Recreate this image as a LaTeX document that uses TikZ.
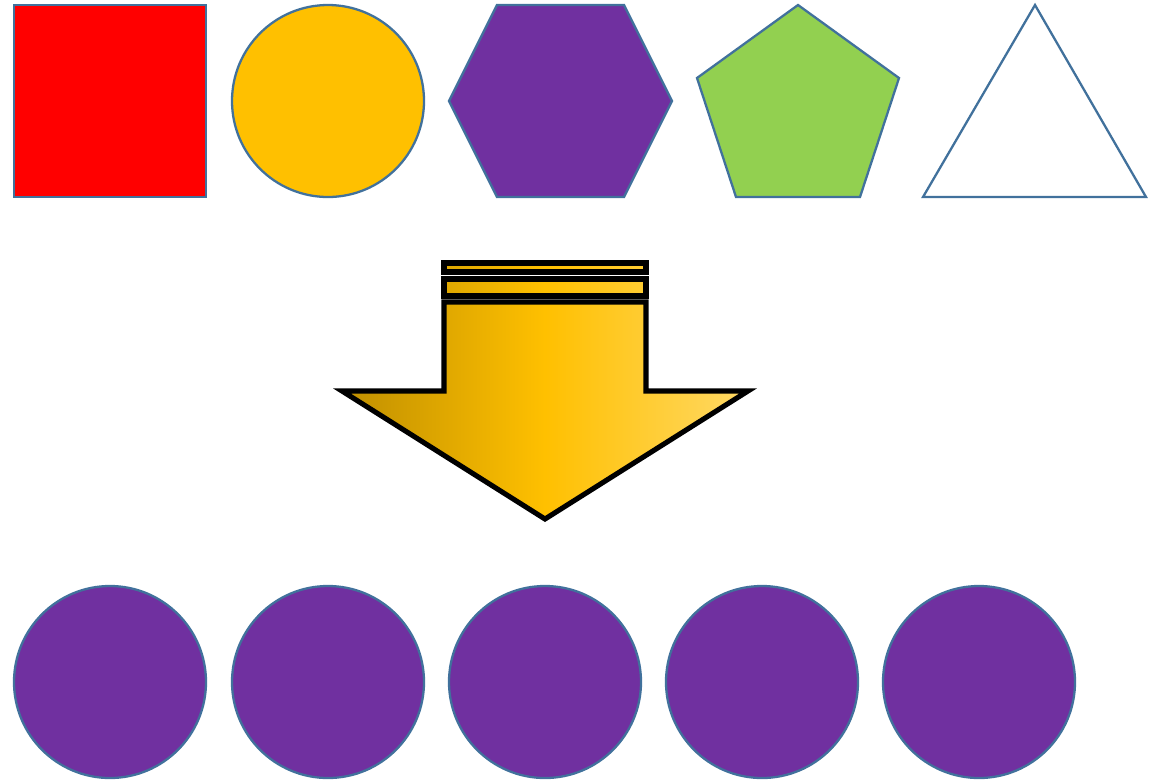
\documentclass[tikz,border=0pt]{standalone}
\usepackage{xcolor}
\usepackage{tikz}
\usetikzlibrary{calc}

\definecolor{edgeblue}{HTML}{41719C}
\definecolor{shapered}{HTML}{FF0000}
\definecolor{shapegold}{HTML}{FFC000}
\definecolor{shapepurple}{HTML}{7030A0}
\definecolor{shapegreen}{HTML}{92D050}

\pgfdeclarehorizontalshading{goldshade}{100bp}{rgb(0bp)=(0.75,0.56,0); rgb(25bp)=(0.75,0.56,0); rgb(50bp)=(1,0.753,0); rgb(75bp)=(1,0.85,0.4); rgb(100bp)=(1,0.85,0.4)}

\begin{document}
\begin{tikzpicture}[x=0.02cm, y=-0.02cm,
  figline/.style={draw=edgeblue, line width=1.3pt, line join=miter},
  goldfill/.style={shading=goldshade},
  arrline/.style={draw=black, line width=2.9pt, line join=miter}
]
\useasboundingbox (0,0) rectangle (1162,779);

% top row
\draw[figline, fill=shapered] (14,5) rectangle (206,197);
\draw[figline, fill=shapegold] (328,101) circle (96);
\draw[figline, fill=shapepurple] (449,101) -- (497,5) -- (624,5) -- (672,101) -- (624,197) -- (497,197) -- cycle;
\draw[figline, fill=shapegreen] (798,5) -- (899,78) -- (860,197) -- (736,197) -- (697,78) -- cycle;
\draw[figline, fill=white] (1035,5) -- (1146,197) -- (923,197) -- cycle;

% arrow
\shade[goldfill] (444,263) rectangle (646,272) (444,279) rectangle (646,296)
  (444,302) -- (646,302) -- (646,391) -- (748,391) -- (545,519) -- (342,391) -- (444,391) -- cycle;
\draw[arrline] (444,263) rectangle (646,272);
\draw[arrline] (444,279) rectangle (646,296);
\draw[arrline] (444,302) -- (646,302) -- (646,391) -- (748,391) -- (545,519) -- (342,391) -- (444,391) -- cycle;

% bottom row
\foreach \cx in {110,328,545,762,979}
  \draw[figline, fill=shapepurple] (\cx,682) circle (96);
\end{tikzpicture}
\end{document}
